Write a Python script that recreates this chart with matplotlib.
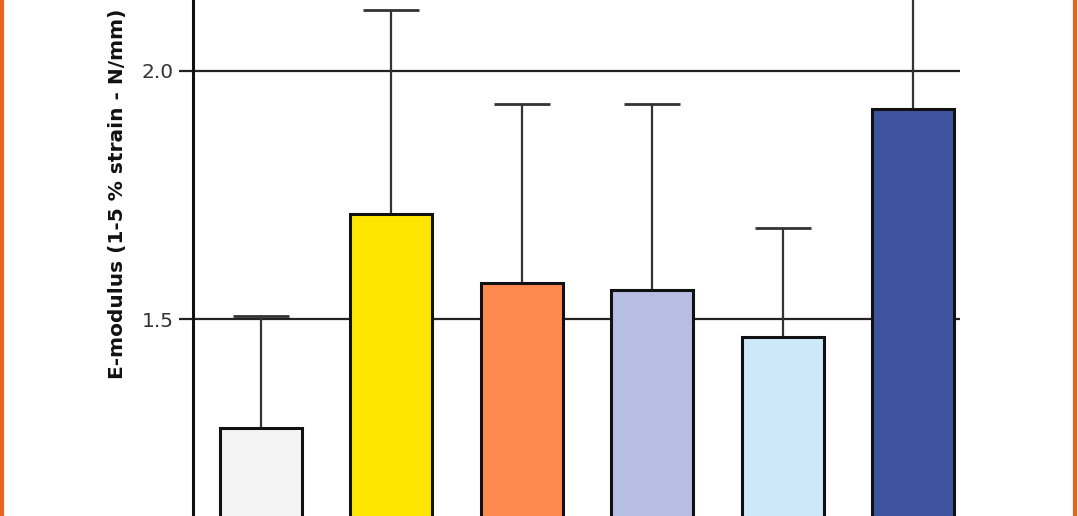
import matplotlib

matplotlib.use("Agg")
import matplotlib.pyplot as plt
from matplotlib.lines import Line2D

# bar heights and upper error-bar ends (E-modulus)
groups = ["A", "B", "C", "D", "E", "F"]
means = [1.280, 1.712, 1.573, 1.558, 1.464, 1.923]
err_top = [1.506, 2.123, 1.933, 1.933, 1.683, 2.35]
colors = ["#f3f3f3", "#ffe600", "#ff8a50", "#b8bde3", "#cde8f8", "#3f53a0"]
yticks = [1.5, 2.0]
ytick_labels = ["1.5", "2.0"]

W, H = 1078, 516
fig = plt.figure(figsize=(W / 100, H / 100), dpi=100)
ax = fig.add_axes([193 / W, 0, (960 - 193) / W, 1])

x = list(range(len(groups)))
upper = [t - m for m, t in zip(means, err_top)]
lower = [0] * len(means)

for y in yticks:
    ax.axhline(y, color="#222222", lw=1.6, zorder=1)

ax.bar(x, means, width=0.63, color=colors, edgecolor="#111111", linewidth=2.2, zorder=2)
ax.errorbar(x, means, yerr=[lower, upper], fmt="none", ecolor="#333333",
            elinewidth=1.6, capsize=20, capthick=2.0, zorder=1.5)

ax.set_xlim(-0.52, 5.36)
ax.set_ylim(1.103, 2.143)
ax.set_yticks(yticks)
ax.set_yticklabels(ytick_labels, fontsize=14.5, color="#333333")
ax.tick_params(axis="y", length=10, width=1.6, pad=4, color="#222222")
ax.set_xticks([])
for s in ("top", "right", "bottom"):
    ax.spines[s].set_visible(False)
ax.spines["left"].set_linewidth(2.2)
ax.spines["left"].set_color("#111111")

ax.set_ylabel("E-modulus (1-5 % strain - N/mm)", fontsize=14.5, fontweight="bold", color="#111111")
ax.yaxis.set_label_coords(-0.086, 0.625)

# orange frame edges of the original figure
for xf in (1.5 / W, 1 - 3.5 / W):
    fig.add_artist(Line2D([xf, xf], [0, 1], transform=fig.transFigure, color="#e8641e", lw=3))

fig.savefig("out.png", dpi=100)
